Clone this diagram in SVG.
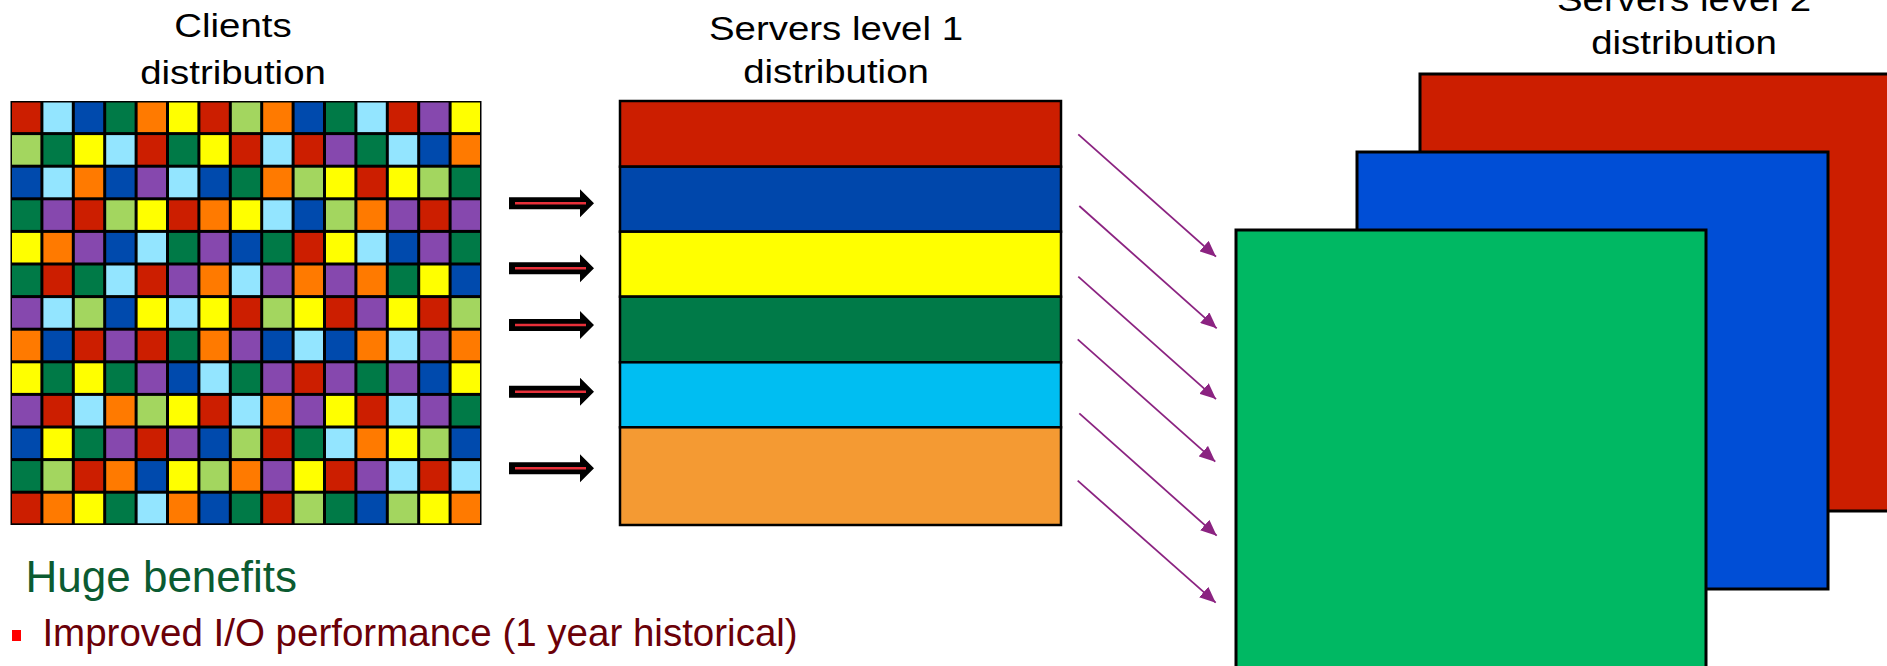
<svg xmlns="http://www.w3.org/2000/svg" width="1887" height="666" viewBox="0 0 1887 666">
  <style>
    .title { font-family: "Liberation Sans", Arial, sans-serif; font-size: 34px; fill: #000; text-anchor: middle; }
    .R { fill: #cc1e00; }
    .C { fill: #93e5ff; }
    .B { fill: #004aad; }
    .G { fill: #007a47; }
    .O { fill: #ff7a00; }
    .Y { fill: #ffff00; }
    .L { fill: #a3d65f; }
    .P { fill: #8648ae; }
    .band { stroke: #000; stroke-width: 2.5; }
    .sheet { stroke: #000; stroke-width: 3; }
    .flow { stroke: #8b2381; stroke-width: 1.8; fill: none; marker-end: url(#purpleHead); }
  </style>
  <defs>
    <marker id="purpleHead" viewBox="0 0 16 14" refX="16" refY="7" markerWidth="16" markerHeight="14" markerUnits="userSpaceOnUse" orient="auto">
      <path d="M0,0 L16,7 L0,14 z" fill="#8b2381"/>
    </marker>
    <g id="blockArrow">
      <polygon points="509,-6 580,-6 580,-14 594,0 580,14 580,6 509,6" fill="#000"/>
      <line x1="515" y1="0" x2="586" y2="0" stroke="#e8303a" stroke-width="2.6"/>
    </g>
  </defs>
  <rect width="1887" height="666" fill="#fff"/>

  <!-- Level 2 servers: three stacked sheets -->
  <g id="servers-level2">
    <rect class="sheet R" x="1420" y="74" width="480" height="437"/>
    <rect class="sheet" x="1357" y="152" width="471" height="437" fill="#004ed6"/>
    <rect class="sheet" x="1236" y="230" width="470" height="450" fill="#00b863"/>
  </g>

  <!-- Titles -->
  <g id="title-clients">
    <text class="title" transform="translate(233,37) scale(1.13,1)">Clients</text>
    <text class="title" transform="translate(233,84) scale(1.13,1)">distribution</text>
  </g>
  <g id="title-level1">
    <text class="title" transform="translate(836,40) scale(1.13,1)">Servers level 1</text>
    <text class="title" transform="translate(836,83) scale(1.13,1)">distribution</text>
  </g>
  <g id="title-level2">
    <text class="title" transform="translate(1684,11) scale(1.13,1)">Servers level 2</text>
    <text class="title" transform="translate(1684,53.5) scale(1.13,1)">distribution</text>
  </g>

  <!-- Clients grid: 15 x 13 cells -->
  <g id="clients-grid">
    <rect x="10.5" y="101" width="471" height="424" fill="#000"/>
    <g transform="translate(0,102.5)">
      <rect class="R" x="12" width="28.4" height="29.6"/><rect class="C" x="43.4" width="28.4" height="29.6"/><rect class="B" x="74.8" width="28.4" height="29.6"/><rect class="G" x="106.2" width="28.4" height="29.6"/><rect class="O" x="137.6" width="28.4" height="29.6"/><rect class="Y" x="169" width="28.4" height="29.6"/><rect class="R" x="200.4" width="28.4" height="29.6"/><rect class="L" x="231.8" width="28.4" height="29.6"/><rect class="O" x="263.2" width="28.4" height="29.6"/><rect class="B" x="294.6" width="28.4" height="29.6"/><rect class="G" x="326" width="28.4" height="29.6"/><rect class="C" x="357.4" width="28.4" height="29.6"/><rect class="R" x="388.8" width="28.4" height="29.6"/><rect class="P" x="420.2" width="28.4" height="29.6"/><rect class="Y" x="451.6" width="28.4" height="29.6"/>
    </g>
    <g transform="translate(0,135.1)">
      <rect class="L" x="12" width="28.4" height="29.6"/><rect class="G" x="43.4" width="28.4" height="29.6"/><rect class="Y" x="74.8" width="28.4" height="29.6"/><rect class="C" x="106.2" width="28.4" height="29.6"/><rect class="R" x="137.6" width="28.4" height="29.6"/><rect class="G" x="169" width="28.4" height="29.6"/><rect class="Y" x="200.4" width="28.4" height="29.6"/><rect class="R" x="231.8" width="28.4" height="29.6"/><rect class="C" x="263.2" width="28.4" height="29.6"/><rect class="R" x="294.6" width="28.4" height="29.6"/><rect class="P" x="326" width="28.4" height="29.6"/><rect class="G" x="357.4" width="28.4" height="29.6"/><rect class="C" x="388.8" width="28.4" height="29.6"/><rect class="B" x="420.2" width="28.4" height="29.6"/><rect class="O" x="451.6" width="28.4" height="29.6"/>
    </g>
    <g transform="translate(0,167.7)">
      <rect class="B" x="12" width="28.4" height="29.6"/><rect class="C" x="43.4" width="28.4" height="29.6"/><rect class="O" x="74.8" width="28.4" height="29.6"/><rect class="B" x="106.2" width="28.4" height="29.6"/><rect class="P" x="137.6" width="28.4" height="29.6"/><rect class="C" x="169" width="28.4" height="29.6"/><rect class="B" x="200.4" width="28.4" height="29.6"/><rect class="G" x="231.8" width="28.4" height="29.6"/><rect class="O" x="263.2" width="28.4" height="29.6"/><rect class="L" x="294.6" width="28.4" height="29.6"/><rect class="Y" x="326" width="28.4" height="29.6"/><rect class="R" x="357.4" width="28.4" height="29.6"/><rect class="Y" x="388.8" width="28.4" height="29.6"/><rect class="L" x="420.2" width="28.4" height="29.6"/><rect class="G" x="451.6" width="28.4" height="29.6"/>
    </g>
    <g transform="translate(0,200.3)">
      <rect class="G" x="12" width="28.4" height="29.6"/><rect class="P" x="43.4" width="28.4" height="29.6"/><rect class="R" x="74.8" width="28.4" height="29.6"/><rect class="L" x="106.2" width="28.4" height="29.6"/><rect class="Y" x="137.6" width="28.4" height="29.6"/><rect class="R" x="169" width="28.4" height="29.6"/><rect class="O" x="200.4" width="28.4" height="29.6"/><rect class="Y" x="231.8" width="28.4" height="29.6"/><rect class="C" x="263.2" width="28.4" height="29.6"/><rect class="B" x="294.6" width="28.4" height="29.6"/><rect class="L" x="326" width="28.4" height="29.6"/><rect class="O" x="357.4" width="28.4" height="29.6"/><rect class="P" x="388.8" width="28.4" height="29.6"/><rect class="R" x="420.2" width="28.4" height="29.6"/><rect class="P" x="451.6" width="28.4" height="29.6"/>
    </g>
    <g transform="translate(0,232.9)">
      <rect class="Y" x="12" width="28.4" height="29.6"/><rect class="O" x="43.4" width="28.4" height="29.6"/><rect class="P" x="74.8" width="28.4" height="29.6"/><rect class="B" x="106.2" width="28.4" height="29.6"/><rect class="C" x="137.6" width="28.4" height="29.6"/><rect class="G" x="169" width="28.4" height="29.6"/><rect class="P" x="200.4" width="28.4" height="29.6"/><rect class="B" x="231.8" width="28.4" height="29.6"/><rect class="G" x="263.2" width="28.4" height="29.6"/><rect class="R" x="294.6" width="28.4" height="29.6"/><rect class="Y" x="326" width="28.4" height="29.6"/><rect class="C" x="357.4" width="28.4" height="29.6"/><rect class="B" x="388.8" width="28.4" height="29.6"/><rect class="P" x="420.2" width="28.4" height="29.6"/><rect class="G" x="451.6" width="28.4" height="29.6"/>
    </g>
    <g transform="translate(0,265.5)">
      <rect class="G" x="12" width="28.4" height="29.6"/><rect class="R" x="43.4" width="28.4" height="29.6"/><rect class="G" x="74.8" width="28.4" height="29.6"/><rect class="C" x="106.2" width="28.4" height="29.6"/><rect class="R" x="137.6" width="28.4" height="29.6"/><rect class="P" x="169" width="28.4" height="29.6"/><rect class="O" x="200.4" width="28.4" height="29.6"/><rect class="C" x="231.8" width="28.4" height="29.6"/><rect class="P" x="263.2" width="28.4" height="29.6"/><rect class="O" x="294.6" width="28.4" height="29.6"/><rect class="P" x="326" width="28.4" height="29.6"/><rect class="O" x="357.4" width="28.4" height="29.6"/><rect class="G" x="388.8" width="28.4" height="29.6"/><rect class="Y" x="420.2" width="28.4" height="29.6"/><rect class="B" x="451.6" width="28.4" height="29.6"/>
    </g>
    <g transform="translate(0,298.1)">
      <rect class="P" x="12" width="28.4" height="29.6"/><rect class="C" x="43.4" width="28.4" height="29.6"/><rect class="L" x="74.8" width="28.4" height="29.6"/><rect class="B" x="106.2" width="28.4" height="29.6"/><rect class="Y" x="137.6" width="28.4" height="29.6"/><rect class="C" x="169" width="28.4" height="29.6"/><rect class="Y" x="200.4" width="28.4" height="29.6"/><rect class="R" x="231.8" width="28.4" height="29.6"/><rect class="L" x="263.2" width="28.4" height="29.6"/><rect class="Y" x="294.6" width="28.4" height="29.6"/><rect class="R" x="326" width="28.4" height="29.6"/><rect class="P" x="357.4" width="28.4" height="29.6"/><rect class="Y" x="388.8" width="28.4" height="29.6"/><rect class="R" x="420.2" width="28.4" height="29.6"/><rect class="L" x="451.6" width="28.4" height="29.6"/>
    </g>
    <g transform="translate(0,330.7)">
      <rect class="O" x="12" width="28.4" height="29.6"/><rect class="B" x="43.4" width="28.4" height="29.6"/><rect class="R" x="74.8" width="28.4" height="29.6"/><rect class="P" x="106.2" width="28.4" height="29.6"/><rect class="R" x="137.6" width="28.4" height="29.6"/><rect class="G" x="169" width="28.4" height="29.6"/><rect class="O" x="200.4" width="28.4" height="29.6"/><rect class="P" x="231.8" width="28.4" height="29.6"/><rect class="B" x="263.2" width="28.4" height="29.6"/><rect class="C" x="294.6" width="28.4" height="29.6"/><rect class="B" x="326" width="28.4" height="29.6"/><rect class="O" x="357.4" width="28.4" height="29.6"/><rect class="C" x="388.8" width="28.4" height="29.6"/><rect class="P" x="420.2" width="28.4" height="29.6"/><rect class="O" x="451.6" width="28.4" height="29.6"/>
    </g>
    <g transform="translate(0,363.3)">
      <rect class="Y" x="12" width="28.4" height="29.6"/><rect class="G" x="43.4" width="28.4" height="29.6"/><rect class="Y" x="74.8" width="28.4" height="29.6"/><rect class="G" x="106.2" width="28.4" height="29.6"/><rect class="P" x="137.6" width="28.4" height="29.6"/><rect class="B" x="169" width="28.4" height="29.6"/><rect class="C" x="200.4" width="28.4" height="29.6"/><rect class="G" x="231.8" width="28.4" height="29.6"/><rect class="P" x="263.2" width="28.4" height="29.6"/><rect class="R" x="294.6" width="28.4" height="29.6"/><rect class="P" x="326" width="28.4" height="29.6"/><rect class="G" x="357.4" width="28.4" height="29.6"/><rect class="P" x="388.8" width="28.4" height="29.6"/><rect class="B" x="420.2" width="28.4" height="29.6"/><rect class="Y" x="451.6" width="28.4" height="29.6"/>
    </g>
    <g transform="translate(0,395.9)">
      <rect class="P" x="12" width="28.4" height="29.6"/><rect class="R" x="43.4" width="28.4" height="29.6"/><rect class="C" x="74.8" width="28.4" height="29.6"/><rect class="O" x="106.2" width="28.4" height="29.6"/><rect class="L" x="137.6" width="28.4" height="29.6"/><rect class="Y" x="169" width="28.4" height="29.6"/><rect class="R" x="200.4" width="28.4" height="29.6"/><rect class="C" x="231.8" width="28.4" height="29.6"/><rect class="O" x="263.2" width="28.4" height="29.6"/><rect class="P" x="294.6" width="28.4" height="29.6"/><rect class="Y" x="326" width="28.4" height="29.6"/><rect class="R" x="357.4" width="28.4" height="29.6"/><rect class="C" x="388.8" width="28.4" height="29.6"/><rect class="P" x="420.2" width="28.4" height="29.6"/><rect class="G" x="451.6" width="28.4" height="29.6"/>
    </g>
    <g transform="translate(0,428.5)">
      <rect class="B" x="12" width="28.4" height="29.6"/><rect class="Y" x="43.4" width="28.4" height="29.6"/><rect class="G" x="74.8" width="28.4" height="29.6"/><rect class="P" x="106.2" width="28.4" height="29.6"/><rect class="R" x="137.6" width="28.4" height="29.6"/><rect class="P" x="169" width="28.4" height="29.6"/><rect class="B" x="200.4" width="28.4" height="29.6"/><rect class="L" x="231.8" width="28.4" height="29.6"/><rect class="R" x="263.2" width="28.4" height="29.6"/><rect class="G" x="294.6" width="28.4" height="29.6"/><rect class="C" x="326" width="28.4" height="29.6"/><rect class="O" x="357.4" width="28.4" height="29.6"/><rect class="Y" x="388.8" width="28.4" height="29.6"/><rect class="L" x="420.2" width="28.4" height="29.6"/><rect class="B" x="451.6" width="28.4" height="29.6"/>
    </g>
    <g transform="translate(0,461.1)">
      <rect class="G" x="12" width="28.4" height="29.6"/><rect class="L" x="43.4" width="28.4" height="29.6"/><rect class="R" x="74.8" width="28.4" height="29.6"/><rect class="O" x="106.2" width="28.4" height="29.6"/><rect class="B" x="137.6" width="28.4" height="29.6"/><rect class="Y" x="169" width="28.4" height="29.6"/><rect class="L" x="200.4" width="28.4" height="29.6"/><rect class="O" x="231.8" width="28.4" height="29.6"/><rect class="P" x="263.2" width="28.4" height="29.6"/><rect class="Y" x="294.6" width="28.4" height="29.6"/><rect class="R" x="326" width="28.4" height="29.6"/><rect class="P" x="357.4" width="28.4" height="29.6"/><rect class="C" x="388.8" width="28.4" height="29.6"/><rect class="R" x="420.2" width="28.4" height="29.6"/><rect class="C" x="451.6" width="28.4" height="29.6"/>
    </g>
    <g transform="translate(0,493.7)">
      <rect class="R" x="12" width="28.4" height="29.6"/><rect class="O" x="43.4" width="28.4" height="29.6"/><rect class="Y" x="74.8" width="28.4" height="29.6"/><rect class="G" x="106.2" width="28.4" height="29.6"/><rect class="C" x="137.6" width="28.4" height="29.6"/><rect class="O" x="169" width="28.4" height="29.6"/><rect class="B" x="200.4" width="28.4" height="29.6"/><rect class="G" x="231.8" width="28.4" height="29.6"/><rect class="R" x="263.2" width="28.4" height="29.6"/><rect class="L" x="294.6" width="28.4" height="29.6"/><rect class="G" x="326" width="28.4" height="29.6"/><rect class="B" x="357.4" width="28.4" height="29.6"/><rect class="L" x="388.8" width="28.4" height="29.6"/><rect class="Y" x="420.2" width="28.4" height="29.6"/><rect class="O" x="451.6" width="28.4" height="29.6"/>
    </g>
  </g>

  <!-- Level 1 servers: six horizontal bands -->
  <g id="servers-level1">
    <rect class="band" x="620" y="101" width="441" height="65.7" fill="#cc1e00"/>
    <rect class="band" x="620" y="166.7" width="441" height="65" fill="#0047ab"/>
    <rect class="band" x="620" y="231.7" width="441" height="65" fill="#ffff00"/>
    <rect class="band" x="620" y="296.7" width="441" height="65.6" fill="#007a48"/>
    <rect class="band" x="620" y="362.3" width="441" height="65" fill="#00bef2"/>
    <rect class="band" x="620" y="427.3" width="441" height="97.7" fill="#f49a33"/>
  </g>

  <!-- Connectors -->
  <g id="connectors">
    <use href="#blockArrow" transform="translate(0,203.3)"/>
    <use href="#blockArrow" transform="translate(0,268.3)"/>
    <use href="#blockArrow" transform="translate(0,325)"/>
    <use href="#blockArrow" transform="translate(0,391.7)"/>
    <use href="#blockArrow" transform="translate(0,468.3)"/>
    <line class="flow" x1="1078.3" y1="134.3" x2="1216" y2="256.7"/>
    <line class="flow" x1="1079.3" y1="206" x2="1216.7" y2="328.3"/>
    <line class="flow" x1="1078.3" y1="276.7" x2="1216" y2="399.1"/>
    <line class="flow" x1="1077.7" y1="339.3" x2="1215.3" y2="461.7"/>
    <line class="flow" x1="1079.3" y1="413.3" x2="1216.7" y2="535.7"/>
    <line class="flow" x1="1077.7" y1="480.7" x2="1215.7" y2="602.7"/>
  </g>

  <!-- Benefits text -->
  <g id="benefits">
    <text x="25.5" y="592" font-family="'Liberation Sans', Arial, sans-serif" font-size="44" fill="#0b5b31">Huge benefits</text>
    <rect x="12" y="630" width="9" height="11" fill="#ff0000"/>
    <text x="42.4" y="645.5" font-family="'Liberation Sans', Arial, sans-serif" font-size="38.5" fill="#6b0008">Improved I/O performance (1 year historical)</text>
  </g>
</svg>
